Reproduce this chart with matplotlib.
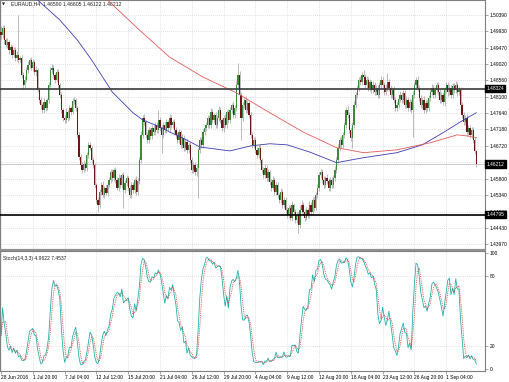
import numpy as np
import pandas as pd
import matplotlib
matplotlib.use("Agg")
import matplotlib.pyplot as plt
from matplotlib.transforms import blended_transform_factory

# ---------------- data (prices in pips above 1.4000) ----------------
header_text = "EURAUD,H4  1.46590 1.46605 1.46122 1.46212"
stoch_text = "Stoch(14,3,3) 4.9622 7.4537"
first_open = 990.0
closes = [
    983, 1002, 969, 955, 963, 941, 949, 927, 941, 919,
    927, 913, 919, 871, 843, 857, 885, 899, 913, 891,
    907, 879, 885, 829, 801, 787, 773, 795, 779, 801,
    843, 885, 891, 871, 857, 879, 843, 815, 773, 751,
    745, 767, 751, 779, 767, 798, 801, 779, 703, 641,
    619, 605, 622, 611, 647, 675, 667, 633, 619, 563,
    521, 507, 543, 563, 535, 555, 541, 563, 577, 599,
    583, 605, 577, 555, 583, 563, 591, 549, 569, 583,
    555, 535, 563, 549, 577, 543, 574, 633, 703, 751,
    739, 703, 689, 717, 700, 722, 711, 731, 717, 745,
    722, 703, 731, 717, 739, 722, 751, 731, 739, 717,
    703, 689, 711, 675, 695, 667, 683, 661, 675, 633,
    605, 619, 599, 611, 661, 689, 675, 711, 722, 731,
    751, 731, 767, 745, 759, 731, 751, 773, 745, 722,
    751, 731, 767, 745, 773, 787, 759, 779, 843, 871,
    815, 751, 787, 801, 773, 793, 759, 703, 675, 689,
    661, 647, 667, 633, 605, 591, 611, 583, 599, 571,
    555, 577, 543, 563, 535, 521, 543, 507, 521, 493,
    479, 499, 471, 507, 487, 465, 479, 451, 493, 507,
    487, 471, 493, 479, 507, 487, 521, 499, 535, 555,
    591, 599, 577, 563, 583, 574, 555, 577, 563, 583,
    605, 633, 667, 689, 675, 703, 731, 773, 759, 717,
    695, 731, 787, 815, 835, 857, 851, 871, 865, 843,
    857, 835, 851, 829, 843, 823, 835, 815, 843, 857,
    843, 823, 835, 851, 835, 815, 829, 801, 779, 787,
    804, 815, 801, 820, 787, 801, 779, 795, 773, 815,
    843, 857, 835, 807, 787, 801, 773, 793, 779, 807,
    823, 835, 815, 829, 843, 823, 801, 815, 795, 829,
    843, 823, 835, 815, 840, 829, 843, 823, 829, 787,
    759, 739, 751, 711, 722, 703, 717, 689, 659, 621.2,
]
up_wick = [
    18, 10, 8, 6, 12, 5, 9, 6, 8, 7,
    10, 112, 6, 9, 8, 12, 7, 10, 6, 9,
    8, 7, 10, 6, 9, 8, 5, 10, 7, 6,
    9, 8, 10, 7, 6, 9, 8, 5, 7, 6,
    8, 10, 7, 9, 6, 8, 7, 5, 6, 9,
    7, 8, 10, 6, 9, 8, 7, 6, 9, 5,
    6, 8, 9, 7, 10, 6, 8, 9, 7, 8,
    9, 6, 8, 7, 10, 8, 6, 9, 7, 8,
    6, 8, 7, 9, 6, 10, 8, 9, 12, 8,
    10, 7, 9, 8, 6, 9, 10, 7, 8, 28,
    8, 10, 7, 9, 8, 6, 10, 8, 7, 9,
    8, 7, 9, 6, 10, 8, 7, 9, 6, 8,
    7, 9, 8, 10, 6, 8, 9, 7, 10, 8,
    9, 7, 10, 8, 6, 9, 7, 10, 8, 6,
    8, 10, 7, 9, 8, 6, 10, 8, 12, 33,
    10, 8, 9, 7, 10, 8, 6, 9, 7, 8,
    7, 9, 8, 10, 6, 8, 9, 7, 8, 6,
    8, 10, 7, 9, 8, 6, 10, 8, 7, 9,
    9, 7, 8, 10, 6, 9, 7, 8, 10, 12,
    8, 7, 9, 6, 10, 8, 9, 7, 8, 10,
    9, 8, 7, 10, 6, 9, 8, 7, 9, 8,
    10, 8, 9, 7, 10, 8, 9, 8, 10, 7,
    8, 9, 10, 8, 9, 7, 10, 8, 14, 9,
    10, 8, 9, 7, 10, 8, 9, 7, 8, 10,
    9, 8, 10, 26, 9, 7, 8, 10, 8, 9,
    8, 10, 7, 9, 8, 10, 7, 9, 8, 10,
    9, 8, 10, 8, 9, 7, 10, 8, 9, 7,
    8, 10, 9, 7, 8, 9, 10, 8, 9, 7,
    9, 8, 10, 7, 9, 8, 10, 9, 8, 7,
    8, 9, 7, 10, 8, 9, 7, 8, 9, 1.5,
]
dn_wick = [
    10, 8, 12, 7, 9, 10, 6, 8, 7, 9,
    8, 10, 7, 9, 12, 8, 6, 10, 9, 7,
    9, 8, 10, 7, 9, 12, 10, 8, 9, 7,
    8, 7, 9, 10, 8, 6, 9, 8, 10, 9,
    8, 10, 9, 7, 8, 6, 9, 8, 10, 9,
    8, 9, 7, 10, 8, 9, 7, 8, 10, 9,
    10, 20, 8, 9, 7, 10, 8, 9, 7, 8,
    9, 8, 10, 7, 9, 8, 10, 50, 9, 8,
    10, 9, 8, 10, 9, 8, 10, 9, 8, 10,
    9, 8, 10, 9, 8, 10, 9, 8, 9, 10,
    9, 50, 8, 10, 9, 8, 10, 9, 8, 10,
    9, 10, 8, 9, 10, 8, 9, 10, 8, 9,
    10, 8, 9, 10, 84, 9, 8, 10, 9, 8,
    9, 10, 8, 9, 10, 8, 9, 10, 8, 9,
    10, 8, 9, 10, 8, 9, 10, 8, 9, 10,
    9, 62, 8, 10, 9, 8, 10, 9, 8, 10,
    9, 10, 8, 9, 10, 8, 9, 10, 8, 9,
    10, 8, 9, 10, 8, 9, 10, 8, 9, 10,
    9, 10, 8, 9, 10, 8, 9, 22, 10, 9,
    10, 9, 8, 10, 9, 8, 10, 9, 8, 10,
    9, 10, 8, 9, 10, 8, 9, 10, 8, 9,
    10, 8, 9, 10, 8, 9, 10, 8, 9, 10,
    9, 28, 10, 8, 9, 10, 8, 9, 10, 8,
    9, 10, 8, 9, 10, 8, 9, 10, 8, 9,
    10, 8, 9, 10, 8, 9, 10, 8, 9, 10,
    8, 9, 10, 8, 9, 10, 8, 9, 10, 76,
    9, 10, 8, 9, 10, 8, 9, 10, 8, 9,
    10, 8, 9, 10, 8, 9, 10, 8, 9, 10,
    9, 10, 8, 9, 10, 8, 9, 10, 8, 9,
    10, 8, 9, 10, 8, 9, 10, 8, 9, 9,
]

# moving averages (bar index, pips)
ma_blue_bars = [0, 23, 37, 48, 57, 70, 83, 89, 100, 106, 114, 125, 144, 157, 169,
                180, 194, 211, 228, 249, 265, 278, 291, 299]
ma_blue_vals = [1179, 1081, 1025, 969, 913, 823, 765, 745, 725, 711, 695, 669, 658,
                672, 678, 675, 655, 625, 639, 653, 675, 709, 745, 765]
ma_red_bars = [0, 67, 87, 106, 127, 148, 169, 190, 211, 228, 249, 270, 287, 293, 299]
ma_red_vals = [1358, 1081, 997, 921, 865, 821, 765, 711, 667, 653, 661, 681, 703, 700, 695]

x_labels = ["28 Jun 2016", "1 Jul 20:00", "7 Jul 04:00", "12 Jul 12:00", "15 Jul 20:00",
            "21 Jul 04:00", "26 Jul 12:00", "29 Jul 20:00", "4 Aug 04:00", "9 Aug 12:00",
            "12 Aug 20:00", "18 Aug 04:00", "23 Aug 12:00", "26 Aug 20:00", "1 Sep 04:00"]
x_label_bars = [0, 20, 40, 60, 80, 100, 120, 140, 160, 180, 200, 220, 240, 260, 280]
price_ticks = [1.50390, 1.49930, 1.49470, 1.49020, 1.48560, 1.48100, 1.47640, 1.47180,
               1.46720, 1.46260, 1.45800, 1.45340, 1.44880, 1.44430, 1.43970]
hidden_tick_labels = [1.46260]   # covered by the bid-price box in the reference
resistance = 1.48324
support = 1.44795
bid_price = 1.46212
stoch_ticks = [0, 20, 80, 100]
stoch_levels = [20, 80]

# ---------------- preparation ----------------
n = min(len(closes), len(up_wick), len(dn_wick))
c = 1.4 + np.array(closes[:n], float) / 10000
o = np.concatenate([[1.4 + first_open / 10000], c[:-1]])
hi = np.maximum(o, c) + np.array(up_wick[:n], float) / 10000
lo = np.minimum(o, c) - np.array(dn_wick[:n], float) / 10000
x = np.arange(n)

W, H = 510, 382
fig = plt.figure(figsize=(W / 100, H / 100), dpi=100)
plt.rcParams['font.family'] = ['Liberation Sans', 'DejaVu Sans']
ax = fig.add_axes([0, 133 / H, 485 / W, 249 / H])
axs = fig.add_axes([0, 11 / H, 485 / W, 120 / H])

grid_kw = dict(color='#c8c8c8', linestyle=(0, (1, 2)), linewidth=0.5)
spine_col = '#808080'
fs = 3.5

for a in (ax, axs):
    a.set_xlim(-0.63, 304.4)
    a.set_xticks(x_label_bars)
    for s in a.spines.values():
        s.set_color(spine_col)
        s.set_linewidth(0.8)
    a.set_facecolor('white')
    a.set_axisbelow(True)
    a.grid(True, axis='x', **grid_kw)

# ---- main panel ----
ax.set_ylim(1.43830, 1.50810)
ax.set_yticks(price_ticks)
ax.set_yticklabels(["" if any(abs(p - h) < 1e-9 for h in hidden_tick_labels) else f"{p:.5f}"
                    for p in price_ticks])
ax.grid(True, axis='y', **grid_kw)
ax.yaxis.tick_right()
ax.tick_params(axis='y', length=2, width=0.5, color=spine_col, pad=1.5, labelsize=fs)
ax.tick_params(axis='x', length=0, labelbottom=False)

bull = c >= o
body_lo = np.minimum(o, c)
body_h = np.maximum(np.abs(c - o), 0.00003)
ax.vlines(x, lo, hi, color='#a0a0a0', linewidth=0.5, zorder=2)
ax.bar(x[bull], body_h[bull], bottom=body_lo[bull], width=0.8, color='#3a8a3a', zorder=3, linewidth=0)
ax.bar(x[~bull], body_h[~bull], bottom=body_lo[~bull], width=0.8, color='#6e1616', zorder=3, linewidth=0)

ax.plot(ma_blue_bars, 1.4 + np.array(ma_blue_vals) / 10000, color='#3c3cb4', linewidth=0.6, zorder=4)
ax.plot(ma_red_bars, 1.4 + np.array(ma_red_vals) / 10000, color='#e45a5a', linewidth=0.6, zorder=4)

ax.axhline(bid_price, color='#c4c4c4', linewidth=0.6, zorder=1.5)
ax.axhline(resistance, color='#3a3a3a', linewidth=1.2, zorder=5)
ax.axhline(support, color='#000000', linewidth=1.2, zorder=5)

tr = blended_transform_factory(ax.transAxes, ax.transData)
for p in (resistance, bid_price, support):
    ax.text(1.003, p, f"{p:.5f}", transform=tr, ha='left', va='center', fontsize=fs,
            color='white', clip_on=False, zorder=10,
            bbox=dict(boxstyle='square,pad=0.25', facecolor='black', edgecolor='black'))

ax.text(0.004, 0.983, "\u25BC", transform=ax.transAxes, fontsize=2.8, ha='left', va='center',
        family='DejaVu Sans', color='#202020')
ax.text(0.022, 0.983, header_text, transform=ax.transAxes, fontsize=3.7, ha='left', va='center',
        color='#202020')

# ---- stochastic panel ----
hs, ls, cs = pd.Series(hi), pd.Series(lo), pd.Series(c)
ll = ls.rolling(14, min_periods=1).min()
hh = hs.rolling(14, min_periods=1).max()
num = (cs - ll).rolling(3, min_periods=1).sum()
den = (hh - ll).rolling(3, min_periods=1).sum()
k_line = 100 * num / den
d_line = k_line.rolling(3, min_periods=1).mean()

axs.set_ylim(-1.7, 101.7)
axs.set_yticks(stoch_ticks)
axs.set_yticklabels([str(t) for t in stoch_ticks])
axs.yaxis.tick_right()
axs.tick_params(axis='y', length=2, width=0.5, color=spine_col, pad=1.5, labelsize=fs)
for lv in stoch_levels:
    axs.axhline(lv, **grid_kw)
axs.plot(x, k_line, color='#20b2aa', linewidth=0.6, zorder=3)
axs.plot(x, d_line, color='#e03030', linewidth=0.6, linestyle=(0, (1, 1.2)), zorder=4)
axs.text(0.006, 0.96, stoch_text, transform=axs.transAxes, fontsize=3.6, ha='left', va='top',
         color='#202020')

axs.set_xticklabels(x_labels)
axs.tick_params(axis='x', length=2, width=0.5, color=spine_col, pad=1.2, labelsize=fs)
for lab in axs.get_xticklabels():
    lab.set_horizontalalignment('left')

fig.add_artist(plt.Line2D([0, 485 / W], [(H - 250) / H] * 2, color='#909090', linewidth=1.5))

fig.savefig("out.png", dpi=100, facecolor='white')
